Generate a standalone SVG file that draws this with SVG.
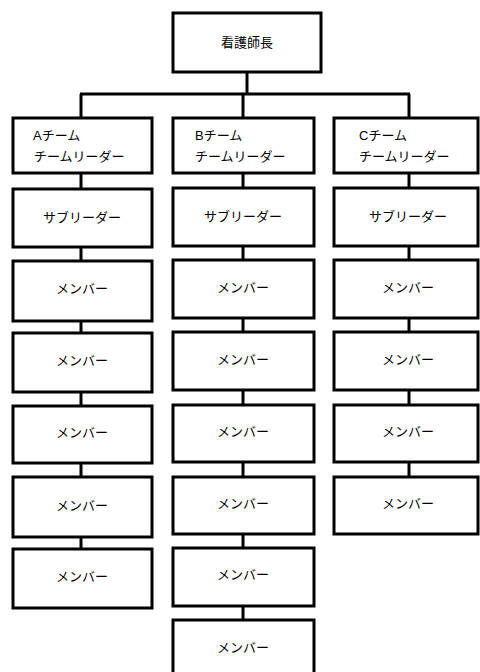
<svg xmlns="http://www.w3.org/2000/svg" width="480" height="672" viewBox="0 0 480 672">
<style>
g rect{fill:#fff;stroke:#000;stroke-width:3}
.c line{stroke:#000;stroke-width:3}
text{font-family:"Liberation Sans","Noto Sans CJK JP",sans-serif;font-size:13px;fill:#000}
.m{text-anchor:middle;dominant-baseline:central}
</style>
<rect width="480" height="672" fill="#fff"/>
<g class="c" id="connectors">
<line x1="247" y1="72" x2="247" y2="94"/>
<line x1="80" y1="94" x2="410" y2="94"/>
<line x1="81" y1="94" x2="81" y2="118"/>
<line x1="243" y1="94" x2="243" y2="118"/>
<line x1="409" y1="94" x2="409" y2="118"/>
<line x1="81" y1="173" x2="81" y2="189"/>
<line x1="81" y1="247" x2="81" y2="261"/>
<line x1="81" y1="321" x2="81" y2="333"/>
<line x1="81" y1="392" x2="81" y2="406"/>
<line x1="81" y1="463" x2="81" y2="477"/>
<line x1="81" y1="537" x2="81" y2="549"/>
<line x1="243" y1="173" x2="243" y2="188"/>
<line x1="243" y1="246" x2="243" y2="260"/>
<line x1="243" y1="318" x2="243" y2="332"/>
<line x1="243" y1="390" x2="243" y2="405"/>
<line x1="243" y1="462" x2="243" y2="477"/>
<line x1="243" y1="534" x2="243" y2="548"/>
<line x1="243" y1="606" x2="243" y2="620"/>
<line x1="409" y1="173" x2="409" y2="188"/>
<line x1="409" y1="246" x2="409" y2="260"/>
<line x1="409" y1="318" x2="409" y2="332"/>
<line x1="409" y1="390" x2="409" y2="405"/>
<line x1="409" y1="462" x2="409" y2="477"/>
</g>
<g id="head"><rect x="173" y="13" width="148" height="59"/><text class="m" x="247" y="42">看護師長</text></g>
<g id="a-leader"><rect x="13" y="118" width="139" height="55"/><text x="33" y="140">Aチーム</text><text x="34" y="161">チームリーダー</text></g>
<g id="a-sub"><rect x="13" y="189" width="139" height="58"/><text class="m" x="82" y="217">サブリーダー</text></g>
<g id="a-m1"><rect x="13" y="261" width="139" height="60"/><text class="m" x="82" y="288">メンバー</text></g>
<g id="a-m2"><rect x="13" y="333" width="139" height="59"/><text class="m" x="82" y="360">メンバー</text></g>
<g id="a-m3"><rect x="13" y="406" width="139" height="57"/><text class="m" x="82" y="432">メンバー</text></g>
<g id="a-m4"><rect x="13" y="477" width="139" height="60"/><text class="m" x="82" y="505">メンバー</text></g>
<g id="a-m5"><rect x="13" y="549" width="139" height="59"/><text class="m" x="82" y="576">メンバー</text></g>
<g id="b-leader"><rect x="173" y="118" width="141" height="55"/><text x="195" y="140">Bチーム</text><text x="195" y="161">チームリーダー</text></g>
<g id="b-sub"><rect x="173" y="188" width="141" height="58"/><text class="m" x="243" y="216">サブリーダー</text></g>
<g id="b-m1"><rect x="173" y="260" width="141" height="58"/><text class="m" x="243" y="287">メンバー</text></g>
<g id="b-m2"><rect x="173" y="332" width="141" height="58"/><text class="m" x="243" y="359">メンバー</text></g>
<g id="b-m3"><rect x="173" y="405" width="141" height="57"/><text class="m" x="243" y="431">メンバー</text></g>
<g id="b-m4"><rect x="173" y="477" width="141" height="57"/><text class="m" x="243" y="503">メンバー</text></g>
<g id="b-m5"><rect x="173" y="548" width="141" height="58"/><text class="m" x="243" y="574">メンバー</text></g>
<g id="b-m6"><rect x="173" y="620" width="141" height="60"/><text class="m" x="243" y="647">メンバー</text></g>
<g id="c-leader"><rect x="334" y="118" width="144" height="55"/><text x="359" y="140">Cチーム</text><text x="359" y="161">チームリーダー</text></g>
<g id="c-sub"><rect x="334" y="188" width="144" height="58"/><text class="m" x="408" y="216">サブリーダー</text></g>
<g id="c-m1"><rect x="334" y="260" width="144" height="58"/><text class="m" x="408" y="287">メンバー</text></g>
<g id="c-m2"><rect x="334" y="332" width="144" height="58"/><text class="m" x="408" y="359">メンバー</text></g>
<g id="c-m3"><rect x="334" y="405" width="144" height="57"/><text class="m" x="408" y="431">メンバー</text></g>
<g id="c-m4"><rect x="334" y="477" width="144" height="57"/><text class="m" x="408" y="503">メンバー</text></g>
</svg>
